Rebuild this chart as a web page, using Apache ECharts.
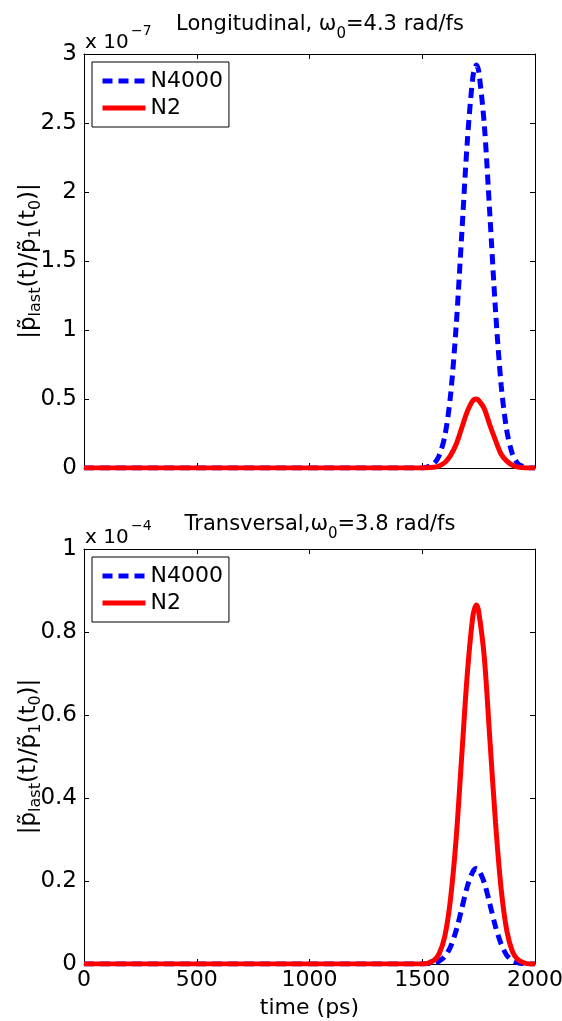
<!DOCTYPE html>
<html>
<head>
<meta charset="utf-8">
<script src="https://cdn.jsdelivr.net/npm/echarts@6/dist/echarts.min.js"></script>
<style>
html,body{margin:0;padding:0;background:#fff;}
#chart{width:562px;height:1021px;}
</style>
</head>
<body>
<div id="chart"></div>
<script>
// time samples (ps)
const times = [0, 500, 1000, 1500, 1550, 1575, 1600, 1625, 1650, 1675, 1700, 1725, 1740, 1750, 1775, 1800, 1825, 1850, 1875, 1900, 1925, 1950, 1975, 2000];
// Longitudinal (values in units of 1e-7)
const longN4000 = [0, 0, 0, 0, 0.03, 0.09, 0.23, 0.52, 1.02, 1.69, 2.37, 2.84, 2.92, 2.88, 2.49, 1.83, 1.14, 0.60, 0.27, 0.10, 0.03, 0.01, 0, 0];
const longN2    = [0, 0, 0, 0, 0.005, 0.015, 0.04, 0.09, 0.17, 0.29, 0.41, 0.49, 0.50, 0.49, 0.43, 0.31, 0.20, 0.10, 0.05, 0.02, 0.006, 0.002, 0, 0];
// Transversal (values in units of 1e-4)
const transN4000 = [0, 0, 0, 0, 0.002, 0.007, 0.018, 0.041, 0.08, 0.133, 0.187, 0.223, 0.23, 0.227, 0.196, 0.144, 0.09, 0.048, 0.021, 0.008, 0.003, 0.001, 0, 0];
const transN2    = [0, 0, 0, 0, 0.008, 0.025, 0.067, 0.155, 0.30, 0.50, 0.70, 0.84, 0.865, 0.85, 0.74, 0.54, 0.34, 0.18, 0.08, 0.03, 0.01, 0.003, 0, 0];
const seriesNames = ['N4000', 'N2'];
const titles = ['Longitudinal, ', 'Transversal,'];
const omegaVals = ['4.3', '3.8'];
const exponents = ['\u22127', '\u22124'];
const yMax = [3, 1];
const yInterval = [0.5, 0.2];

const FONT = '"DejaVu Sans", Verdana, sans-serif';
const pair = (ys) => times.map((t, i) => [t, ys[i]]);

const gridTops = [54, 549];
const gridH = [414, 415];
const L = 84, R = 27;

const grids = gridTops.map((t, i) => ({left: L, right: R, top: t, height: gridH[i],
  containLabel: false, outerBoundsMode: 'none'}));

const xAxes = [];
const yAxes = [];
[0, 1].forEach(g => {
  const showLab = g === 1;
  xAxes.push({
    type: 'value', gridIndex: g, position: 'bottom', min: 0, max: 2000, interval: 500,
    axisLine: {show: true, onZero: false, lineStyle: {color: '#000', width: 1}},
    axisTick: {show: true, inside: true, length: 5, lineStyle: {color: '#000'}},
    axisLabel: {show: showLab, color: '#000', fontFamily: FONT, fontSize: 22, margin: 5,
      formatter: v => String(v)},
    splitLine: {show: false},
    name: showLab ? 'time (ps)' : '', nameLocation: 'middle', nameGap: 33, nameMoveOverlap: false,
    nameTextStyle: {color: '#000', fontFamily: FONT, fontSize: 22}
  });
  xAxes.push({
    type: 'value', gridIndex: g, position: 'top', min: 0, max: 2000, interval: 500,
    axisLine: {show: true, onZero: false, lineStyle: {color: '#000', width: 1}},
    axisTick: {show: true, inside: true, length: 5, lineStyle: {color: '#000'}},
    axisLabel: {show: false}, splitLine: {show: false}
  });
  yAxes.push({
    type: 'value', gridIndex: g, position: 'left', min: 0, max: yMax[g], interval: yInterval[g],
    axisLine: {show: true, onZero: false, lineStyle: {color: '#000', width: 1}},
    axisTick: {show: true, inside: true, length: 5, lineStyle: {color: '#000'}},
    axisLabel: {show: true, color: '#000', fontFamily: FONT, fontSize: 23, margin: 7,
      formatter: v => String(v)},
    splitLine: {show: false},
    name: '{m||p\u0303}{s|last}{m|(t)/p\u0303}{s|1}{m|(t}{s|0}{m|)|}',
    nameLocation: 'middle', nameGap: 40, nameRotate: 90, nameMoveOverlap: false,
    nameTextStyle: {
      color: '#000', fontFamily: FONT, fontSize: 22,
      rich: {
        m: {fontSize: 23, fontFamily: FONT, color: '#000', lineHeight: 30, verticalAlign: 'middle'},
        s: {fontSize: 16, fontFamily: FONT, color: '#000', lineHeight: 14, verticalAlign: 'bottom'}
      }
    }
  });
  yAxes.push({
    type: 'value', gridIndex: g, position: 'right', min: 0, max: yMax[g], interval: yInterval[g],
    axisLine: {show: true, onZero: false, lineStyle: {color: '#000', width: 1}},
    axisTick: {show: true, inside: true, length: 5, lineStyle: {color: '#000'}},
    axisLabel: {show: false}, splitLine: {show: false}
  });
});

const dataSets = [[longN4000, longN2], [transN4000, transN2]];
const series = [];
[0, 1].forEach(g => {
  series.push({
    name: seriesNames[0], type: 'line', xAxisIndex: g * 2, yAxisIndex: g * 2,
    data: pair(dataSets[g][0]), symbol: 'none', smooth: 0.3, animation: false,
    lineStyle: {color: '#0000ff', width: 5, type: [10, 6], cap: 'butt'},
    itemStyle: {color: '#0000ff'}, z: 2
  });
  series.push({
    name: seriesNames[1], type: 'line', xAxisIndex: g * 2, yAxisIndex: g * 2,
    data: pair(dataSets[g][1]), symbol: 'none', smooth: 0.3, animation: false,
    lineStyle: {color: '#ff0000', width: 5, type: 'solid'},
    itemStyle: {color: '#ff0000'}, z: 3
  });
});

const legends = gridTops.map(t => ({
  orient: 'vertical', left: 92, top: t + 8,
  padding: [8, 6, 8, 8], itemGap: 5, itemWidth: 43, itemHeight: 14,
  backgroundColor: '#fff', borderColor: '#000', borderWidth: 1, borderRadius: 0,
  textStyle: {color: '#000', fontFamily: FONT, fontSize: 22, lineHeight: 22},
  lineStyle: {width: 5, opacity: 1},
  itemStyle: {opacity: 0, borderWidth: 0},
  data: [seriesNames[0], seriesNames[1]],
  selectedMode: false
}));

const titleY = [25, 525];
const graphics = [];
[0, 1].forEach(g => {
  const top = gridTops[g];
  graphics.push({
    type: 'text', x: 320, y: titleY[g],
    style: {
      text: '{m|' + titles[g] + '\u03c9}{s|0}{m|=' + omegaVals[g] + ' rad/fs}',
      fill: '#000', font: '21px ' + FONT, align: 'center', verticalAlign: 'middle',
      rich: {
        m: {fontSize: 21, fontFamily: FONT, fill: '#000', lineHeight: 34, verticalAlign: 'middle'},
        s: {fontSize: 15, fontFamily: FONT, fill: '#000', lineHeight: 14, verticalAlign: 'bottom'}
      }
    }
  });
  graphics.push({
    type: 'text', x: 85, y: top - 1,
    style: {text: 'x 10', fill: '#000', font: '20px ' + FONT, verticalAlign: 'bottom'}
  });
  graphics.push({
    type: 'text', x: 131, y: top - 23,
    style: {text: exponents[g], fill: '#000', font: '14px ' + FONT, verticalAlign: 'middle'}
  });
});

const chart = echarts.init(document.getElementById('chart'), null, {renderer: 'canvas'});
chart.setOption({
  backgroundColor: '#fff',
  animation: false,
  grid: grids,
  xAxis: xAxes,
  yAxis: yAxes,
  legend: legends,
  series: series,
  graphic: graphics
});
</script>
</body>
</html>
